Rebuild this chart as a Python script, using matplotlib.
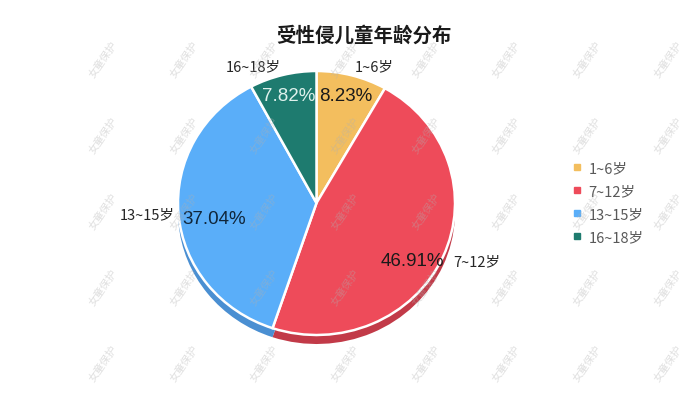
import numpy as np
import matplotlib
matplotlib.use('Agg')
import matplotlib.pyplot as plt
from matplotlib.lines import Line2D

plt.rcParams['font.family'] = ['Noto Sans CJK SC', 'DejaVu Sans']

# Data
title = '受性侵儿童年龄分布'
labels = ['1~6岁', '7~12岁', '13~15岁', '16~18岁']
shares = [8.23, 46.91, 37.04, 7.82]
colors = ['#F3BE5E', '#EE4B5A', '#5AAEF9', '#1E7B6F']
shadow_colors = ['#C99E48', '#C23A48', '#4A8FD2', '#165C53']
pct_colors = ['#1a1a1a', '#1a1a1a', '#10263a', '#dff1ec']
pct_dist = [0.84, 0.82, 0.75, 0.84]
pct_turn = [0, -8, 4, 0]       # degrees, nudges the label along the arc
label_dist = [1.07, 1.08, 1.03, 1.07]
watermark = '女童保护'

W, H = 700, 406
fig = plt.figure(figsize=(W / 100, H / 100), dpi=100)
fig.patch.set_facecolor('white')

# pie axes: slightly elliptical face, centre (316.5, 204) px
cx, cy, rx, ry = 316.5, 204, 138.5, 132
pad = 1.6
ax = fig.add_axes([(cx - pad * rx) / W, (H - cy - pad * ry) / H,
                   2 * pad * rx / W, 2 * pad * ry / H])

shadow = 9 / ry
# extruded "3D" edge underneath
ax.pie(shares, colors=shadow_colors, startangle=90, counterclock=False,
       center=(0, -shadow), radius=1, wedgeprops=dict(linewidth=0))
wedges, _ = ax.pie(shares, colors=colors, startangle=90,
                   counterclock=False, radius=1,
                   wedgeprops=dict(edgecolor='white', linewidth=1.8))
ax.set_aspect('auto')
ax.set_xlim(-pad, pad)
ax.set_ylim(-pad, pad)
ax.axis('off')

for w, lab, v, r, t, c, ld in zip(wedges, labels, shares, pct_dist, pct_turn,
                                  pct_colors, label_dist):
    mid = (w.theta1 + w.theta2) / 2
    a = np.deg2rad(mid + t)
    ax.text(r * np.cos(a), r * np.sin(a), f'{v:.2f}%', ha='center', va='center',
            fontsize=13.5, color=c, family=['Liberation Sans', 'DejaVu Sans'])
    a = np.deg2rad(mid)
    x, y = ld * np.cos(a), ld * np.sin(a)
    ax.text(x, y, lab, ha='left' if x > 0 else 'right', va='center',
            fontsize=10.5, color='#262626')

# title
fig.text(364 / W, 1 - 36 / H, title, ha='center', va='center',
         fontsize=14, fontweight='bold', color='#1a1a1a')

# legend
handles = [Line2D([], [], marker='s', linestyle='', markersize=5,
                  markerfacecolor=c, markeredgecolor=c) for c in colors]
fig.legend(handles, labels, loc='upper left', bbox_to_anchor=(565 / W, 1 - 155 / H),
           frameon=False, fontsize=10.5, labelcolor='#595959', handlelength=0.6,
           handletextpad=0.5, labelspacing=0.62, borderpad=0)

# watermark grid
for xw in np.arange(103, W + 40, 80.7):
    for yw in np.arange(60, H + 20, 76):
        fig.text(xw / W, 1 - yw / H, watermark, rotation=55, ha='center', va='center',
                 fontsize=7.5, color='#b0b0b0', alpha=0.4, zorder=10)

fig.savefig('out.png', dpi=100, facecolor='white')
